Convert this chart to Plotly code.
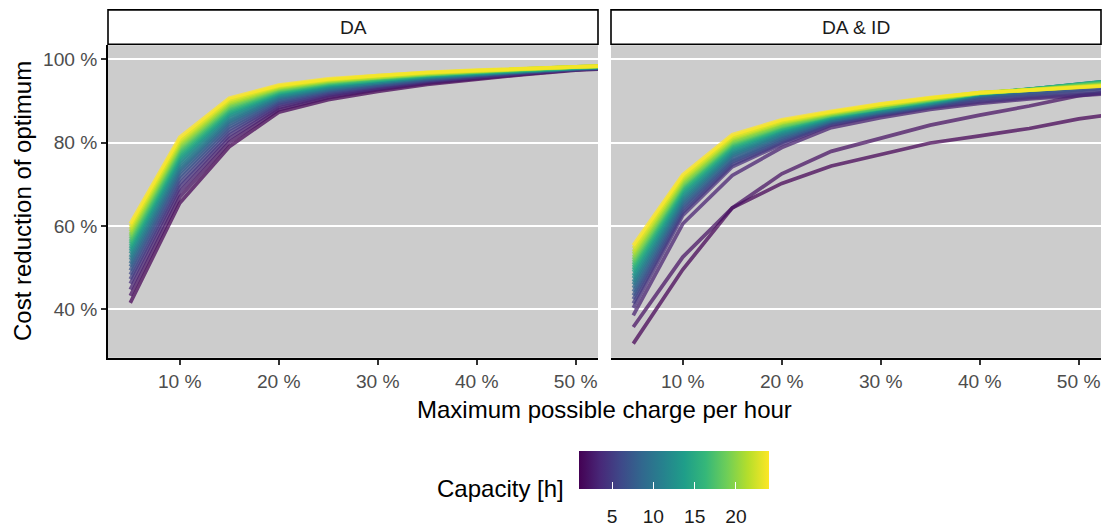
import plotly.graph_objects as go
from plotly.colors import sample_colorscale, unlabel_rgb

# ---------------- data ----------------
charge = [5, 10, 15, 20, 25, 30, 35, 40, 45, 50, 55]          # max possible charge per hour [%]
capacity = list(range(1, 25))                                  # storage capacity [h]
x_ticks = [10, 20, 30, 40, 50]
x_tick_labels = ["10 %", "20 %", "30 %", "40 %", "50 %"]
y_ticks = [40, 60, 80, 100]
y_tick_labels = ["40 %", "60 %", "80 %", "100 %"]
cbar_ticks = [5, 10, 15, 20]
panels = ["DA", "DA & ID"]

# cost reduction of optimum [%], one row per capacity (1..24), columns follow `charge`
da_values = [
    [41.5, 65.5, 79.0, 87.3, 90.3, 92.3, 94.0, 95.3, 96.4, 97.4, 98.0],
    [43.2, 66.9, 80.1, 87.9, 90.8, 92.7, 94.3, 95.5, 96.5, 97.5, 98.1],
    [44.7, 68.2, 81.0, 88.4, 91.2, 93.0, 94.5, 95.7, 96.7, 97.6, 98.1],
    [46.1, 69.3, 81.8, 88.9, 91.5, 93.2, 94.7, 95.8, 96.8, 97.6, 98.1],
    [47.2, 70.2, 82.5, 89.3, 91.8, 93.5, 94.9, 95.9, 96.9, 97.7, 98.2],
    [48.3, 71.2, 83.2, 89.6, 92.1, 93.7, 95.0, 96.1, 96.9, 97.7, 98.2],
    [49.3, 72.0, 83.8, 90.0, 92.4, 93.9, 95.2, 96.2, 97.0, 97.8, 98.2],
    [50.2, 72.8, 84.4, 90.3, 92.6, 94.1, 95.3, 96.3, 97.1, 97.8, 98.3],
    [51.0, 73.4, 84.9, 90.6, 92.8, 94.3, 95.5, 96.4, 97.2, 97.9, 98.3],
    [51.8, 74.0, 85.3, 90.8, 93.0, 94.4, 95.6, 96.4, 97.2, 97.9, 98.3],
    [52.5, 74.7, 85.8, 91.1, 93.2, 94.6, 95.7, 96.5, 97.3, 97.9, 98.3],
    [53.3, 75.3, 86.3, 91.3, 93.4, 94.7, 95.8, 96.6, 97.3, 98.0, 98.4],
    [54.0, 75.9, 86.7, 91.6, 93.6, 94.9, 95.9, 96.7, 97.4, 98.0, 98.4],
    [54.6, 76.4, 87.1, 91.8, 93.8, 95.0, 96.0, 96.7, 97.4, 98.0, 98.4],
    [55.2, 76.9, 87.4, 92.0, 93.9, 95.1, 96.1, 96.8, 97.5, 98.0, 98.4],
    [55.8, 77.4, 87.8, 92.2, 94.1, 95.2, 96.2, 96.9, 97.5, 98.1, 98.5],
    [56.3, 77.8, 88.1, 92.4, 94.2, 95.3, 96.3, 96.9, 97.6, 98.1, 98.5],
    [56.9, 78.3, 88.5, 92.6, 94.4, 95.5, 96.3, 97.0, 97.6, 98.1, 98.5],
    [57.5, 78.8, 88.8, 92.8, 94.5, 95.6, 96.4, 97.1, 97.7, 98.2, 98.5],
    [58.0, 79.2, 89.2, 93.0, 94.7, 95.7, 96.5, 97.1, 97.7, 98.2, 98.5],
    [58.6, 79.7, 89.5, 93.2, 94.8, 95.8, 96.6, 97.2, 97.8, 98.2, 98.5],
    [59.2, 80.2, 89.9, 93.4, 95.0, 95.9, 96.7, 97.3, 97.8, 98.2, 98.6],
    [59.8, 80.7, 90.3, 93.6, 95.1, 96.1, 96.8, 97.3, 97.9, 98.3, 98.6],
    [60.5, 81.3, 90.7, 93.8, 95.3, 96.2, 96.9, 97.4, 97.9, 98.3, 98.6],
]

da_id_values = [
    [31.7, 49.5, 64.3, 70.2, 74.4, 77.2, 79.9, 81.6, 83.4, 85.7, 87.3],
    [35.7, 52.5, 64.3, 72.5, 77.9, 81.1, 84.2, 86.6, 88.8, 91.3, 92.6],
    [38.5, 60.5, 72.1, 78.8, 83.6, 86.0, 88.0, 89.4, 90.5, 91.4, 92.1],
    [40.3, 62.5, 74.2, 79.6, 84.2, 86.5, 88.4, 89.8, 90.8, 91.7, 92.4],
    [41.4, 63.2, 74.7, 80.0, 84.4, 86.7, 88.6, 90.2, 91.2, 92.2, 93.0],
    [42.4, 63.9, 75.3, 80.4, 84.7, 86.9, 88.7, 90.6, 91.6, 92.6, 93.5],
    [43.3, 64.5, 75.7, 80.8, 84.9, 87.1, 88.9, 90.9, 91.9, 93.0, 93.9],
    [44.2, 65.1, 76.2, 81.1, 85.1, 87.2, 89.0, 91.1, 92.2, 93.3, 94.3],
    [45.1, 65.6, 76.7, 81.5, 85.3, 87.4, 89.2, 91.3, 92.4, 93.6, 94.6],
    [45.9, 66.1, 77.1, 81.8, 85.4, 87.5, 89.3, 91.4, 92.6, 93.8, 94.9],
    [46.6, 66.6, 77.4, 82.1, 85.6, 87.7, 89.4, 91.5, 92.7, 94.0, 95.1],
    [47.4, 67.1, 77.8, 82.4, 85.8, 87.8, 89.5, 91.6, 92.8, 94.1, 95.2],
    [48.1, 67.6, 78.2, 82.7, 85.9, 88.0, 89.7, 91.7, 92.8, 94.2, 95.3],
    [48.9, 68.1, 78.6, 83.0, 86.1, 88.1, 89.8, 91.7, 92.8, 94.2, 95.3],
    [49.5, 68.5, 78.9, 83.2, 86.2, 88.2, 89.9, 91.8, 92.8, 94.1, 95.2],
    [50.1, 68.9, 79.2, 83.4, 86.4, 88.3, 90.0, 91.8, 92.8, 94.0, 95.0],
    [50.7, 69.3, 79.5, 83.7, 86.5, 88.4, 90.1, 91.8, 92.7, 93.9, 94.9],
    [51.3, 69.7, 79.8, 83.9, 86.6, 88.5, 90.2, 91.9, 92.7, 93.8, 94.7],
    [51.9, 70.0, 80.1, 84.1, 86.7, 88.7, 90.3, 91.9, 92.7, 93.7, 94.6],
    [52.5, 70.4, 80.4, 84.4, 86.9, 88.8, 90.3, 91.9, 92.7, 93.6, 94.4],
    [53.2, 70.9, 80.8, 84.7, 87.0, 88.9, 90.5, 91.9, 92.6, 93.5, 94.3],
    [53.8, 71.3, 81.1, 84.9, 87.2, 89.0, 90.6, 92.0, 92.6, 93.4, 94.1],
    [54.6, 71.8, 81.5, 85.2, 87.3, 89.2, 90.7, 92.0, 92.6, 93.3, 94.0],
    [55.3, 72.3, 81.9, 85.5, 87.5, 89.3, 90.8, 92.0, 92.6, 93.2, 93.9],
]

# ---------------- figure ----------------
W, H = 1105, 527
FONT = "Liberation Sans, Arial, Helvetica, sans-serif"
TITLE_SIZE = 24
TICK_SIZE = 19.2


def px(x):
    return x / W


def py(y):
    return 1 - y / H


cmin, cmax = min(capacity), max(capacity)

fig = go.Figure()
for p_idx, values in enumerate([da_values, da_id_values]):
    xa = "x" if p_idx == 0 else "x2"
    ya = "y" if p_idx == 0 else "y2"
    for cap, row in zip(capacity, values):
        rgb = sample_colorscale("Viridis", [(cap - cmin) / (cmax - cmin)])[0]
        r, g, b = unlabel_rgb(rgb)
        fig.add_trace(go.Scatter(
            x=charge, y=row, mode="lines", xaxis=xa, yaxis=ya,
            line=dict(color=f"rgba({r:.0f},{g:.0f},{b:.0f},0.72)", width=3.7),
            showlegend=False, hoverinfo="skip"))

# colour bar: two coincident bars, one carrying the white inner tick marks,
# the other carrying the labels pushed down a little
cb_common = dict(orientation="h", x=px(674), xanchor="center",
                 y=py(459), yanchor="top", len=190, lenmode="pixels",
                 thickness=38, thicknessmode="pixels", outlinewidth=0,
                 xpad=0, ypad=0, tickvals=cbar_ticks)
fig.add_trace(go.Scatter(
    x=[None], y=[None], mode="markers", xaxis="x", yaxis="y", showlegend=False,
    marker=dict(color=[cmin], colorscale="Viridis", cmin=cmin, cmax=cmax, showscale=True,
                colorbar=dict(**cb_common, ticks="outside", ticklen=11,
                              tickcolor="rgba(0,0,0,0)",
                              tickfont=dict(family=FONT, size=TICK_SIZE, color="#1a1a1a")))))
fig.add_trace(go.Scatter(
    x=[None], y=[None], mode="markers", xaxis="x", yaxis="y", showlegend=False,
    marker=dict(color=[cmin], colorscale="Viridis", cmin=cmin, cmax=cmax, showscale=True,
                colorbar=dict(**cb_common, ticks="inside", ticklen=7,
                              tickcolor="white", tickwidth=1, showticklabels=False))))

x_common = dict(range=[2.75, 52.25], tickvals=x_ticks, ticktext=x_tick_labels,
                ticks="outside", ticklen=5, tickwidth=1.5, tickcolor="#333333",
                showline=True, linecolor="black", linewidth=1.5, showgrid=False,
                zeroline=False, tickfont=dict(family=FONT, size=TICK_SIZE, color="#4d4d4d"))
y_dom = [py(364), py(46)]

fig.update_layout(
    width=W, height=H, margin=dict(l=0, r=0, t=0, b=0),
    paper_bgcolor="white", plot_bgcolor="#cccccc",
    font=dict(family=FONT),
    xaxis=dict(domain=[px(108), px(598)], anchor="y", **x_common),
    xaxis2=dict(domain=[px(611), px(1101)], anchor="y2", **x_common),
    yaxis=dict(domain=y_dom, anchor="x", range=[28.3, 103.4], tickvals=y_ticks,
               ticktext=y_tick_labels, ticks="outside", ticklen=5, tickwidth=1.5,
               tickcolor="#333333", showline=True, linecolor="black", linewidth=1.5,
               gridcolor="white", gridwidth=2, zeroline=False,
               tickfont=dict(family=FONT, size=TICK_SIZE, color="#4d4d4d")),
    yaxis2=dict(domain=y_dom, anchor="x2", matches="y", range=[28.3, 103.4],
                tickvals=y_ticks, showticklabels=False, ticks="", showline=False,
                gridcolor="white", gridwidth=2, zeroline=False),
)

# facet strips
shapes = []
annotations = []
for label, (x0, x1) in zip(panels, [(108, 598), (611, 1101)]):
    shapes.append(dict(type="rect", xref="paper", yref="paper",
                       x0=px(x0), x1=px(x1), y0=py(45), y1=py(10),
                       fillcolor="white", line=dict(color="black", width=1.6)))
    annotations.append(dict(text=label, xref="paper", yref="paper",
                            x=px((x0 + x1) / 2), y=py(27.5), showarrow=False,
                            xanchor="center", yanchor="middle",
                            font=dict(family=FONT, size=TICK_SIZE, color="#1a1a1a")))

annotations += [
    dict(text="Maximum possible charge per hour", xref="paper", yref="paper",
         x=px(604.5), y=py(401), showarrow=False, xanchor="center", yanchor="top",
         font=dict(family=FONT, size=TITLE_SIZE, color="black")),
    dict(text="Cost reduction of optimum", xref="paper", yref="paper",
         x=px(22.5), y=py(205), showarrow=False, xanchor="center", yanchor="middle",
         textangle=-90, font=dict(family=FONT, size=TITLE_SIZE, color="black")),
    dict(text="Capacity [h]", xref="paper", yref="paper",
         x=px(566), y=py(497), showarrow=False, xanchor="right", yanchor="middle",
         font=dict(family=FONT, size=TITLE_SIZE, color="black")),
]
fig.update_layout(shapes=shapes, annotations=annotations)

fig.write_html("out.html")
